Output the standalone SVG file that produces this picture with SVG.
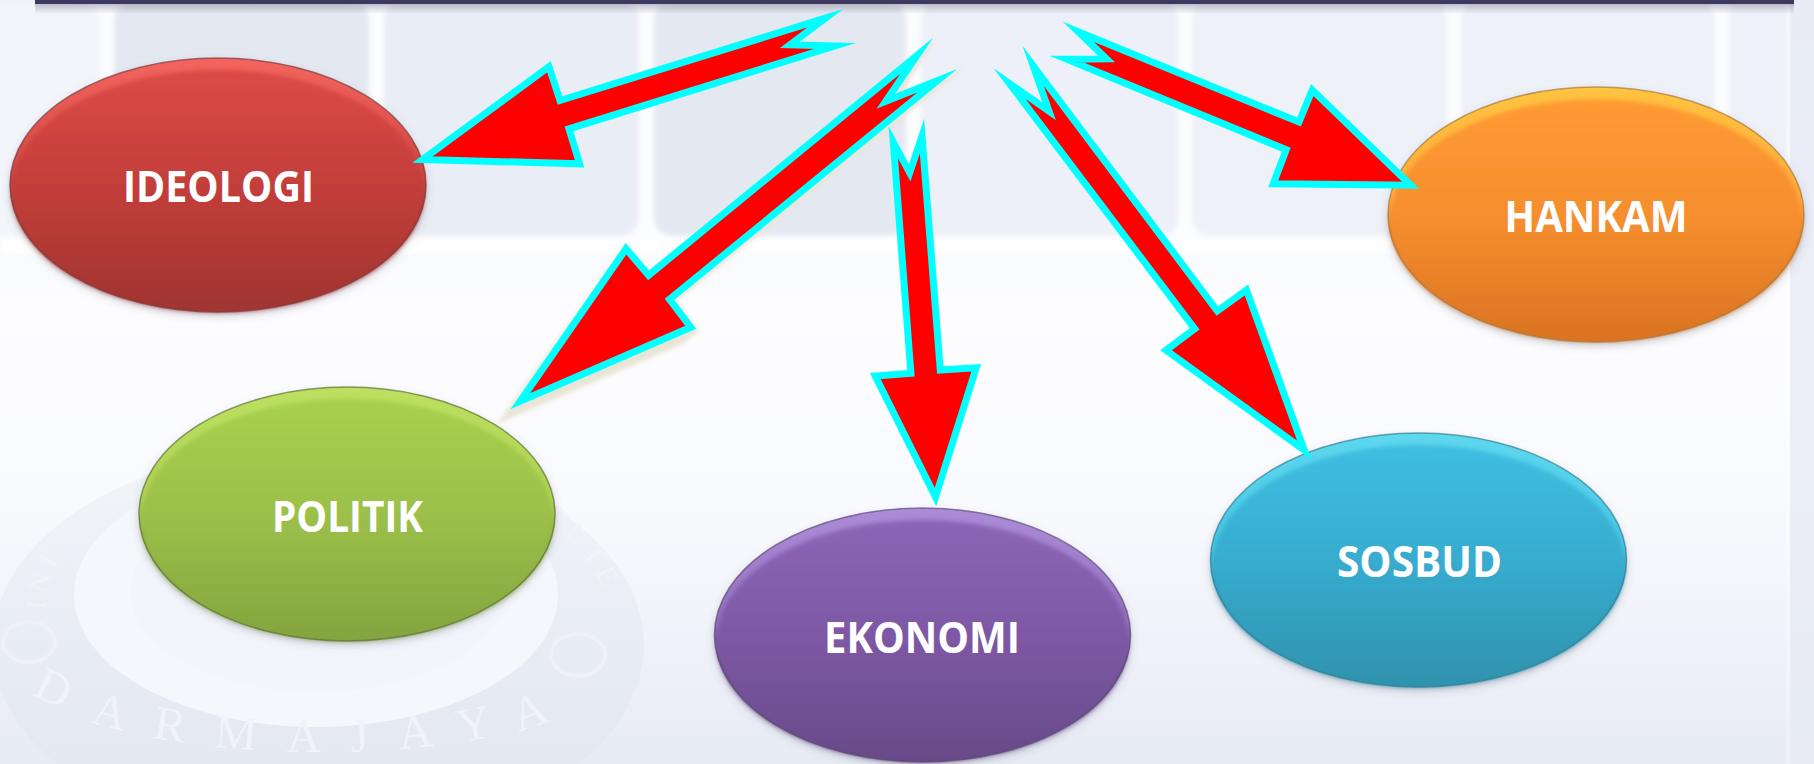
<svg xmlns="http://www.w3.org/2000/svg" width="1814" height="764" viewBox="0 0 1814 764">
<style>
.label{font-family:"Open Sans","Liberation Sans",sans-serif;font-weight:700;font-size:43px;fill:#fff}
.arrow{fill:#f00;stroke:#0ff;stroke-width:7;stroke-linejoin:miter;stroke-miterlimit:40}
.edge{fill:none;stroke-width:1.500;opacity:.7}
.seal{font-family:"Liberation Serif",serif;font-size:48px;fill:#f0f3f8}
.sealsmall{font-family:"Liberation Serif",serif;font-size:28px;fill:#f1f3f9}
.rosette{fill:none;stroke:#eef1f7;stroke-width:4}
.gap{fill:#fcfdff}
</style>
<defs>
<linearGradient id="bg" x1="0" y1="0" x2="0" y2="1">
<stop offset="0" stop-color="#eef1f7"/><stop offset=".31" stop-color="#f7f9fc"/><stop offset=".4" stop-color="#fdfdff"/><stop offset=".66" stop-color="#f9fafe"/><stop offset="1" stop-color="#e7ebf4"/>
</linearGradient>
<linearGradient id="sealFill" x1="0" y1="0" x2="0" y2="1"><stop offset="0" stop-color="#f3f5f9"/><stop offset=".45" stop-color="#e9edf4"/><stop offset="1" stop-color="#e0e5f0"/></linearGradient>
<linearGradient id="fade" x1="0" y1="0" x2="0" y2="1"><stop offset="0" stop-color="#7a7a90" stop-opacity=".45"/><stop offset="1" stop-color="#7a7a90" stop-opacity="0"/></linearGradient>
<linearGradient id="gRed" x1="0" y1="0" x2="0" y2="1"><stop offset="0" stop-color="#dc4a46"/><stop offset=".5" stop-color="#c23e3a"/><stop offset="1" stop-color="#9f3430"/></linearGradient>
<linearGradient id="rRed" x1="0" y1="0" x2="0" y2="1"><stop offset="0" stop-color="#f4655f"/><stop offset=".45" stop-color="#d24743"/><stop offset=".6" stop-color="#a83733"/></linearGradient>
<linearGradient id="gGreen" x1="0" y1="0" x2="0" y2="1"><stop offset="0" stop-color="#a8d04f"/><stop offset=".5" stop-color="#9bbf49"/><stop offset="1" stop-color="#84a43f"/></linearGradient>
<linearGradient id="rGreen" x1="0" y1="0" x2="0" y2="1"><stop offset="0" stop-color="#bde060"/><stop offset=".45" stop-color="#aed253"/><stop offset=".6" stop-color="#86a63f"/></linearGradient>
<linearGradient id="gPurple" x1="0" y1="0" x2="0" y2="1"><stop offset="0" stop-color="#8c65b8"/><stop offset=".5" stop-color="#7d58a4"/><stop offset="1" stop-color="#684a88"/></linearGradient>
<linearGradient id="rPurple" x1="0" y1="0" x2="0" y2="1"><stop offset="0" stop-color="#ac8cd8"/><stop offset=".45" stop-color="#9470c0"/><stop offset=".6" stop-color="#6a4c8a"/></linearGradient>
<linearGradient id="gBlue" x1="0" y1="0" x2="0" y2="1"><stop offset="0" stop-color="#3fbee1"/><stop offset=".5" stop-color="#37abce"/><stop offset="1" stop-color="#2f92ad"/></linearGradient>
<linearGradient id="rBlue" x1="0" y1="0" x2="0" y2="1"><stop offset="0" stop-color="#5ed8ee"/><stop offset=".45" stop-color="#48c6e4"/><stop offset=".6" stop-color="#2f94b0"/></linearGradient>
<linearGradient id="gOrange" x1="0" y1="0" x2="0" y2="1"><stop offset="0" stop-color="#ff9a32"/><stop offset=".5" stop-color="#f58e2e"/><stop offset="1" stop-color="#da7322"/></linearGradient>
<linearGradient id="rOrange" x1="0" y1="0" x2="0" y2="1"><stop offset="0" stop-color="#ffc440"/><stop offset=".45" stop-color="#ffa83a"/><stop offset=".6" stop-color="#dc7622"/></linearGradient>
<filter id="soft" x="-5%" y="-5%" width="110%" height="110%"><feGaussianBlur stdDeviation="2.500"/></filter>
<filter id="bevel" x="-5%" y="-5%" width="110%" height="110%"><feGaussianBlur stdDeviation="2"/></filter>
<filter id="drop" x="-10%" y="-10%" width="120%" height="125%"><feDropShadow dx="0" dy="4" stdDeviation="4" flood-color="#55556a" flood-opacity=".3"/></filter>
<path id="arcBottom" d="M22 676 A300 86 0 0 0 618 676"/>
<path id="arcLeft" d="M46 610 A275 150 0 0 1 110 510"/>
<path id="arcRight" d="M545 520 A280 165 0 0 1 610 625"/>
</defs>

<g id="background">
<rect width="1814" height="764" fill="url(#bg)"/>
<g filter="url(#soft)">
<rect x="0" y="4" width="1790" height="238" class="gap"/>
<rect x="-20" y="2" width="120" height="234" rx="18" fill="#f2f5fa"/>
<rect x="114" y="2" width="255" height="234" rx="18" fill="#e4e8f1"/>
<rect x="384" y="2" width="255" height="234" rx="18" fill="#e9edf5"/>
<rect x="654" y="2" width="252" height="234" rx="18" fill="#e4e8f1"/>
<rect x="921" y="2" width="257" height="234" rx="18" fill="#edf0f8"/>
<rect x="1192" y="2" width="255" height="234" rx="18" fill="#eef1f8"/>
<rect x="1461" y="2" width="254" height="234" rx="18" fill="#eef1f8"/>
<rect x="1729" y="2" width="60" height="234" rx="12" fill="#eff1f9"/>
<rect x="0" y="240" width="1790" height="14" fill="#fff"/>
</g>
<rect x="1790" y="0" width="24" height="764" fill="#e8ebf6" opacity=".85"/>
<rect x="1786" y="0" width="4" height="764" fill="#fff" opacity=".3"/>
<ellipse cx="318" cy="645" rx="326" ry="199" fill="url(#sealFill)"/>
<ellipse cx="316" cy="595" rx="242" ry="132" fill="#f4f7fb"/>
<ellipse cx="318" cy="592" rx="188" ry="100" fill="#f2f5fa"/>
<ellipse class="rosette" cx="29" cy="642" rx="26" ry="20"/>
<ellipse class="rosette" cx="578" cy="655" rx="27" ry="21"/>
<text class="seal" letter-spacing="30"><textPath href="#arcBottom" startOffset="3%">DARMAJAYA</textPath></text>
<text class="sealsmall" letter-spacing="6"><textPath href="#arcLeft">INF</textPath></text>
<text class="sealsmall" letter-spacing="6"><textPath href="#arcRight">TUTE</textPath></text>
<rect x="35" y="4" width="1759" height="10" fill="url(#fade)"/>
<rect x="35" y="0" width="1759" height="4" fill="#3f3962"/>
</g>

<g id="node-ideologi">
<ellipse cx="218" cy="185" rx="208" ry="127" fill="url(#rRed)" filter="url(#drop)"/>
<ellipse cx="218" cy="191" rx="206" ry="121" fill="url(#gRed)" filter="url(#bevel)"/>
<ellipse class="edge" cx="218" cy="185" rx="208" ry="127" stroke="#7d3b3b"/>
<text class="label" x="123" y="202" textLength="191" lengthAdjust="spacingAndGlyphs">IDEOLOGI</text>
</g>
<g id="node-politik">
<ellipse cx="347" cy="514" rx="208" ry="127" fill="url(#rGreen)" filter="url(#drop)"/>
<ellipse cx="347" cy="520" rx="206" ry="121" fill="url(#gGreen)" filter="url(#bevel)"/>
<ellipse class="edge" cx="347" cy="514" rx="208" ry="127" stroke="#5d7232"/>
<text class="label" x="272" y="532" textLength="151" lengthAdjust="spacingAndGlyphs">POLITIK</text>
</g>
<g id="node-ekonomi">
<ellipse cx="922.500" cy="635" rx="208" ry="127" fill="url(#rPurple)" filter="url(#drop)"/>
<ellipse cx="922.500" cy="641" rx="206" ry="121" fill="url(#gPurple)" filter="url(#bevel)"/>
<ellipse class="edge" cx="922.500" cy="635" rx="208" ry="127" stroke="#5b4a72"/>
<text class="label" x="824" y="653" textLength="196" lengthAdjust="spacingAndGlyphs">EKONOMI</text>
</g>
<g id="node-sosbud">
<ellipse cx="1418.500" cy="560" rx="208" ry="127" fill="url(#rBlue)" filter="url(#drop)"/>
<ellipse cx="1418.500" cy="566" rx="206" ry="121" fill="url(#gBlue)" filter="url(#bevel)"/>
<ellipse class="edge" cx="1418.500" cy="560" rx="208" ry="127" stroke="#2f8092"/>
<text class="label" x="1337" y="577" textLength="165" lengthAdjust="spacingAndGlyphs">SOSBUD</text>
</g>
<g id="node-hankam">
<ellipse cx="1596" cy="214.500" rx="208" ry="127.500" fill="url(#rOrange)" filter="url(#drop)"/>
<ellipse cx="1596" cy="220.500" rx="206" ry="121" fill="url(#gOrange)" filter="url(#bevel)"/>
<ellipse class="edge" cx="1596" cy="214.500" rx="208" ry="127.500" stroke="#a87b3c"/>
<text class="label" x="1504.500" y="232" textLength="183" lengthAdjust="spacingAndGlyphs">HANKAM</text>
</g>

<g id="connectors">
<polygon points="497,424 683,344 699,331 677,301 964,68 900,94 938,36 649,272 626,243" fill="#e9e5d6" filter="url(#bevel)"/>
<polygon class="arrow" points="825.300,18.200 560,100.500 549,66.700 422.600,159.500 579.600,163.800 569,128.800 834.800,46 790,44.800"/>
<polygon class="arrow" points="916.700,55.700 648.600,275.300 626,248.800 520.300,401.200 690.800,327.300 669.500,299.300 937.300,80.700 885.800,101.200"/>
<polygon class="arrow" points="893.300,142.200 910.900,373.300 875.300,376 935.500,497 976.200,367.700 940.300,370 922,136.200 909.700,172.800"/>
<polygon class="arrow" points="1033.200,65.800 1217.300,311 1246.500,290 1304.200,450 1166.100,350.300 1194.700,328.800 1009.500,83.500 1049,111.200"/>
<polygon class="arrow" points="1078.200,31.700 1299,122 1312.300,90 1410.700,185.200 1273.300,183.700 1286.200,149.700 1066.700,59.200 1106.500,58.900"/>
</g>
</svg>
